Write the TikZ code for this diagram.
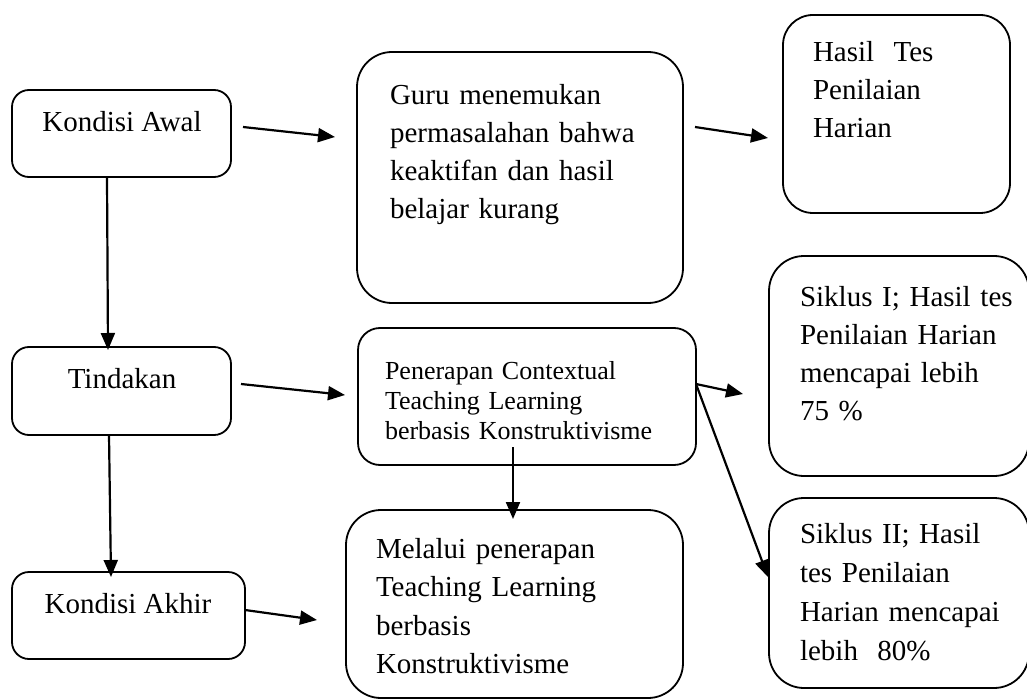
\documentclass[tikz,border=0pt]{standalone}
\usepackage{fontspec}
\setmainfont{Liberation Serif}
\usetikzlibrary{arrows.meta}
\begin{document}
\begin{tikzpicture}[x=0.5pt,y=-0.5pt,
  box/.style={draw,line width=0.9pt,inner sep=0pt,outer sep=0pt},
  txt/.style={inner sep=0pt,outer sep=0pt,align=left,font=\fontsize{14.5}{19}\selectfont},
  arr/.style={line width=1.1pt,-{Triangle[length=8.5pt,width=7pt]}}]
\useasboundingbox (0,0) rectangle (1027,700);
% boxes
\node[box,rounded corners=8.5pt,minimum width=109.5pt,minimum height=43.5pt] (awal) at (121.5,133.5) {};
\node[box,rounded corners=17.5pt,minimum width=163pt,minimum height=125.5pt] (guru) at (520,177.5) {};
\node[box,rounded corners=15pt,minimum width=113.5pt,minimum height=99pt] (hasil) at (896.5,114) {};
\node[box,rounded corners=8.5pt,minimum width=109.5pt,minimum height=44pt] (tindakan) at (121.5,391) {};
\node[box,rounded corners=11pt,minimum width=169pt,minimum height=68.5pt] (penerapan) at (527,396.5) {};
\node[box,rounded corners=17.5pt,minimum width=130pt,minimum height=110pt] (siklus1) at (899,366) {};
\node[box,rounded corners=17.5pt,minimum width=130pt,minimum height=95pt] (siklus2) at (899,593) {};
\node[box,rounded corners=8.5pt,minimum width=116.5pt,minimum height=43.5pt] (akhir) at (128.5,615.5) {};
\node[box,rounded corners=17.5pt,minimum width=168.5pt,minimum height=94pt] (melalui) at (514.5,604) {};
% texts
\node[txt,anchor=base] (tawal) at (122,132) {Kondisi Awal};
\node[txt,anchor=base west,text width=150pt] (tguru) at (390,105) {Guru menemukan\\permasalahan bahwa\\keaktifan dan hasil\\belajar kurang};
\node[txt,anchor=base west,text width=100pt] (thasil) at (813,62) {Hasil\ \ Tes\\Penilaian\\Harian};
\node[txt,anchor=base] (ttindakan) at (122,388) {Tindakan};
\node[txt,anchor=base west,text width=160pt,font=\fontsize{13}{15}\selectfont] (tpenerapan) at (385,379) {Penerapan Contextual\\Teaching Learning\\berbasis Konstruktivisme};
\node[txt,anchor=base west,text width=120pt,font=\fontsize{14.5}{19}\selectfont] (tsiklus1) at (800,306) {Siklus I; Hasil tes\\Penilaian Harian\\mencapai lebih\\75 \%};
\node[txt,anchor=base west,text width=120pt,font=\fontsize{14.5}{19.5}\selectfont] (tsiklus2) at (800,543) {Siklus II; Hasil\\tes Penilaian\\Harian mencapai\\lebih\ \ 80\%};
\node[txt,anchor=base] (takhir) at (128,613) {Kondisi Akhir};
\node[txt,anchor=base west,text width=150pt,font=\fontsize{14.5}{19.3}\selectfont] (tmelalui) at (376,558) {Melalui penerapan\\Teaching Learning\\berbasis\\Konstruktivisme};
% connector ends
\coordinate (a1s) at (243,127); \coordinate (a1e) at (335,137);
\coordinate (a2s) at (695,127); \coordinate (a2e) at (768,138);
\coordinate (a3s) at (107,178); \coordinate (a3e) at (108,350);
\coordinate (a4s) at (241,384); \coordinate (a4e) at (345,395);
\coordinate (a5s) at (696,384); \coordinate (a5e) at (743,394);
\coordinate (a6e) at (768,577);
\coordinate (a7s) at (513,447); \coordinate (a7e) at (513,519);
\coordinate (a8s) at (109,435); \coordinate (a8e) at (111,577);
\coordinate (a9s) at (245,610); \coordinate (a9e) at (317,620);
% connectors
\draw[arr] (a1s) -- (a1e);
\draw[arr] (a2s) -- (a2e);
\draw[arr] (a3s) -- (a3e);
\draw[arr] (a4s) -- (a4e);
\draw[arr] (a5s) -- (a5e);
\draw[arr] (a5s) -- (a6e);
\draw[arr] (a7s) -- (a7e);
\draw[arr] (a8s) -- (a8e);
\draw[arr] (a9s) -- (a9e);
\end{tikzpicture}
\end{document}
